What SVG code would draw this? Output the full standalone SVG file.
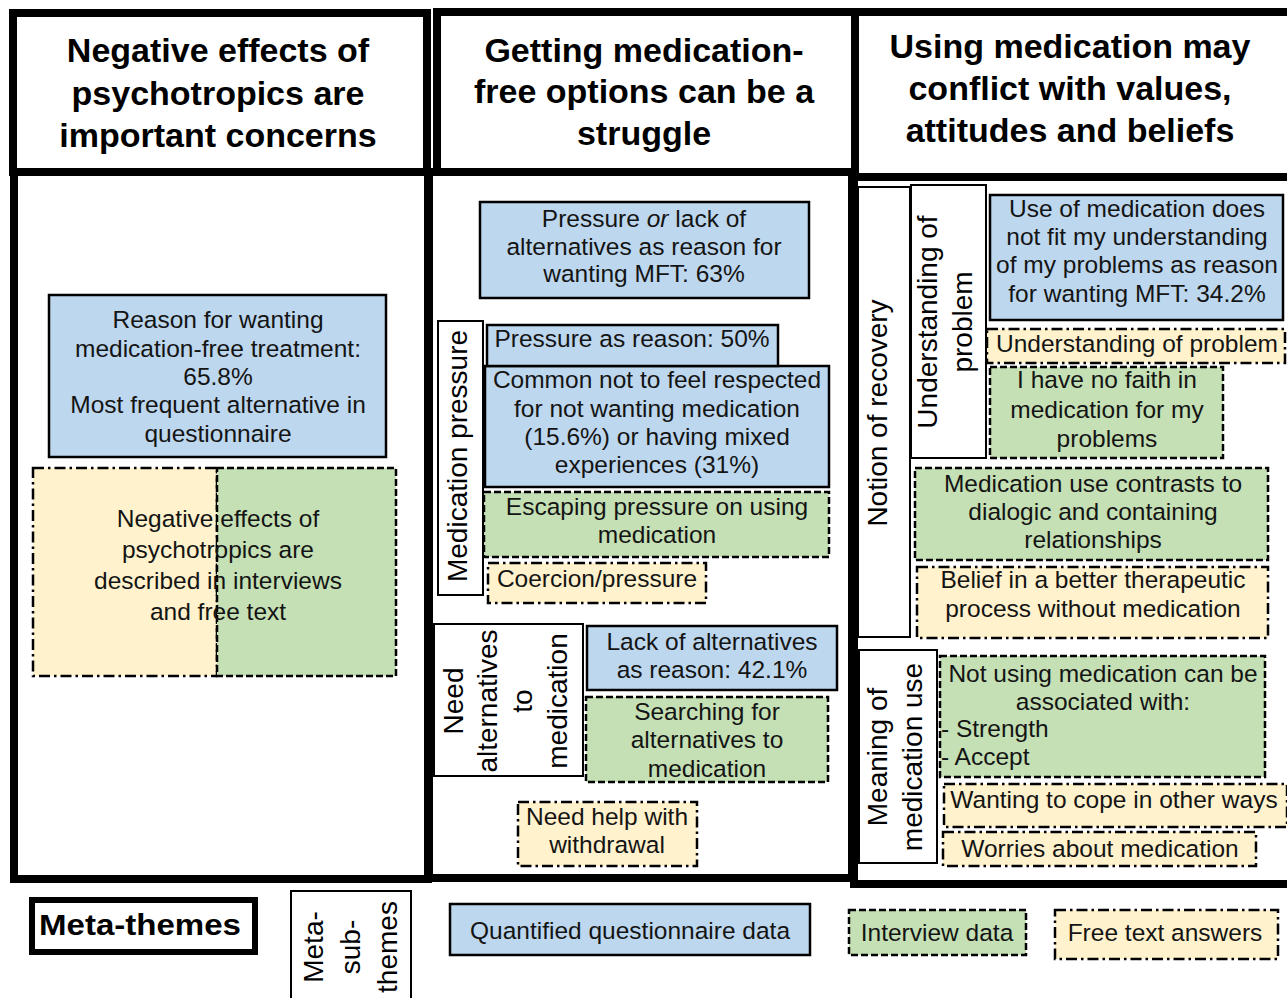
<svg xmlns="http://www.w3.org/2000/svg" width="1287" height="998" viewBox="0 0 1287 998">
<style>
.t{font-family:"Liberation Sans",Arial,sans-serif;font-size:24.5px;fill:#141414;text-anchor:middle}
.s{text-anchor:start}
.h{font-family:"Liberation Sans",Arial,sans-serif;font-size:34px;font-weight:bold;fill:#000;text-anchor:middle}
.v{font-family:"Liberation Sans",Arial,sans-serif;font-size:28px;fill:#000;text-anchor:middle}
.q{fill:#BDD7EE;stroke:#000;stroke-width:2.5}
.i{fill:#C5E0B4;stroke:#000;stroke-width:2.5;stroke-dasharray:7 3}
.f{fill:#FFF2CC;stroke:#000;stroke-width:2.5;stroke-dasharray:11 4 2.5 4}
.lab{fill:#fff;stroke:#000;stroke-width:2}
.frame{fill:#fff;stroke:#000;stroke-width:8}
</style>

<g id="column1">
  <rect class="frame" x="13" y="13" width="414" height="159"/>
  <rect class="frame" x="14" y="172" width="414" height="707"/>
  <text class="h" x="218" y="62">Negative effects of</text>
  <text class="h" x="218" y="105">psychotropics are</text>
  <text class="h" x="218" y="147">important concerns</text>
</g>
<g id="column2">
  <rect class="frame" x="437" y="12" width="418" height="160"/>
  <rect class="frame" x="429" y="172" width="423" height="706"/>
  <text class="h" x="644" y="62">Getting medication-</text>
  <text class="h" x="644" y="103">free options can be a</text>
  <text class="h" x="644" y="145">struggle</text>
</g>
<g id="column3">
  <rect class="frame" x="855" y="12" width="445" height="165"/>
  <rect class="frame" x="854" y="177" width="446" height="707"/>
  <text class="h" x="1070" y="58">Using medication may</text>
  <text class="h" x="1070" y="100">conflict with values,</text>
  <text class="h" x="1070" y="142">attitudes and beliefs</text>
</g>

<g id="connectors"></g>

<!-- Column 1 content -->
<g id="c1-reason">
  <rect class="q" x="49" y="295" width="337" height="162"/>
  <text class="t" x="218" y="328">Reason for wanting</text>
  <text class="t" x="218" y="357">medication-free treatment:</text>
  <text class="t" x="218" y="385">65.8%</text>
  <text class="t" x="218" y="413">Most frequent alternative in</text>
  <text class="t" x="218" y="442">questionnaire</text>
</g>
<g id="c1-negative">
  <rect class="f" x="33" y="468" width="184" height="208"/>
  <rect class="i" x="217" y="468" width="179" height="208"/>
  <text class="t" x="218" y="527">Negative effects of</text>
  <text class="t" x="218" y="558">psychotropics are</text>
  <text class="t" x="218" y="589">described in interviews</text>
  <text class="t" x="218" y="620">and free text</text>
</g>

<!-- Column 2 content -->
<g id="c2-pressure-or-lack">
  <rect class="q" x="480" y="202" width="329" height="96"/>
  <text class="t" x="644" y="227">Pressure <tspan font-style="italic">or</tspan> lack of</text>
  <text class="t" x="644" y="255">alternatives as reason for</text>
  <text class="t" x="644" y="282">wanting MFT: 63%</text>
</g>
<g id="c2-medication-pressure-label">
  <rect class="lab" x="438" y="321" width="45" height="274"/>
  <text class="v" transform="translate(467,456) rotate(-90)">Medication pressure</text>
</g>
<g id="c2-common">
  <rect class="q" x="485" y="366" width="344" height="121"/>
  <text class="t" x="657" y="388">Common not to feel respected</text>
  <text class="t" x="657" y="417">for not wanting medication</text>
  <text class="t" x="657" y="445">(15.6%) or having mixed</text>
  <text class="t" x="657" y="473">experiences (31%)</text>
</g>
<g id="c2-pressure-reason">
  <rect class="q" x="487" y="325" width="291" height="41"/>
  <text class="t" x="632" y="347">Pressure as reason: 50%</text>
</g>
<g id="c2-escaping">
  <rect class="i" x="484" y="492" width="345" height="65"/>
  <text class="t" x="657" y="515">Escaping pressure on using</text>
  <text class="t" x="657" y="543">medication</text>
</g>
<g id="c2-coercion">
  <rect class="f" x="488" y="563" width="218" height="40"/>
  <text class="t" x="597" y="587">Coercion/pressure</text>
</g>
<g id="c2-need-alternatives-label">
  <rect class="lab" x="434" y="624" width="149" height="152"/>
  <text class="v" transform="translate(463,701) rotate(-90)">Need</text>
  <text class="v" transform="translate(497,701) rotate(-90)">alternatives</text>
  <text class="v" transform="translate(532,701) rotate(-90)">to</text>
  <text class="v" transform="translate(567,701) rotate(-90)">medication</text>
</g>
<g id="c2-lack">
  <rect class="q" x="587" y="626" width="250" height="64"/>
  <text class="t" x="712" y="650">Lack of alternatives</text>
  <text class="t" x="712" y="678">as reason: 42.1%</text>
</g>
<g id="c2-searching">
  <rect class="i" x="586" y="697" width="242" height="85"/>
  <text class="t" x="707" y="720">Searching for</text>
  <text class="t" x="707" y="748">alternatives to</text>
  <text class="t" x="707" y="777">medication</text>
</g>
<g id="c2-withdrawal">
  <rect class="f" x="518" y="802" width="179" height="64"/>
  <text class="t" x="607" y="825">Need help with</text>
  <text class="t" x="607" y="853">withdrawal</text>
</g>

<!-- Column 3 content -->
<g id="c3-notion-label">
  <rect class="lab" x="858" y="187" width="52" height="450"/>
  <text class="v" transform="translate(887,413) rotate(-90)">Notion of recovery</text>
</g>
<g id="c3-understanding-label">
  <rect class="lab" x="911" y="185" width="75" height="273"/>
  <text class="v" transform="translate(937,322) rotate(-90)">Understanding of</text>
  <text class="v" transform="translate(972,322) rotate(-90)">problem</text>
</g>
<g id="c3-use-of-medication">
  <rect class="q" x="990" y="195" width="293" height="125"/>
  <text class="t" x="1137" y="217">Use of medication does</text>
  <text class="t" x="1137" y="245">not fit my understanding</text>
  <text class="t" x="1137" y="273">of my problems as reason</text>
  <text class="t" x="1137" y="302">for wanting MFT: 34.2%</text>
</g>
<g id="c3-understanding-free">
  <rect class="f" x="987" y="329" width="298" height="34"/>
  <text class="t" x="1137" y="352">Understanding of problem</text>
</g>
<g id="c3-no-faith">
  <rect class="i" x="990" y="367" width="233" height="91"/>
  <text class="t" x="1107" y="388">I have no faith in</text>
  <text class="t" x="1107" y="418">medication for my</text>
  <text class="t" x="1107" y="447">problems</text>
</g>
<g id="c3-contrasts">
  <rect class="i" x="915" y="468" width="353" height="92"/>
  <text class="t" x="1093" y="492">Medication use contrasts to</text>
  <text class="t" x="1093" y="520">dialogic and containing</text>
  <text class="t" x="1093" y="548">relationships</text>
</g>
<g id="c3-belief">
  <rect class="f" x="917" y="567" width="351" height="71"/>
  <text class="t" x="1093" y="588">Belief in a better therapeutic</text>
  <text class="t" x="1093" y="617">process without medication</text>
</g>
<g id="c3-meaning-label">
  <rect class="lab" x="859" y="650" width="78" height="213"/>
  <text class="v" transform="translate(887,757) rotate(-90)">Meaning of</text>
  <text class="v" transform="translate(922,757) rotate(-90)">medication use</text>
</g>
<g id="c3-not-using">
  <rect class="i" x="940" y="656" width="325" height="121"/>
  <text class="t" x="1103" y="682">Not using medication can be</text>
  <text class="t" x="1103" y="710">associated with:</text>
  <text class="t s" x="941" y="737">- Strength</text>
  <text class="t s" x="941" y="765">- Accept</text>
</g>
<g id="c3-cope">
  <rect class="f" x="944" y="784" width="343" height="43"/>
  <text class="t" x="1114" y="808">Wanting to cope in other ways</text>
</g>
<g id="c3-worries">
  <rect class="f" x="943" y="832" width="313" height="34"/>
  <text class="t" x="1100" y="857">Worries about medication</text>
</g>

<!-- Legend -->
<g id="legend-meta-themes">
  <rect x="32" y="900" width="223" height="52" fill="#fff" stroke="#000" stroke-width="6"/>
  <text class="h" x="140" y="935" textLength="202" lengthAdjust="spacingAndGlyphs" style="font-size:30px">Meta-themes</text>
</g>
<g id="legend-meta-sub-themes">
  <rect class="lab" x="291" y="891" width="120" height="120"/>
  <text class="v" transform="translate(323,947) rotate(-90)">Meta-</text>
  <text class="v" transform="translate(360,947) rotate(-90)">sub-</text>
  <text class="v" transform="translate(397,947) rotate(-90)">themes</text>
</g>
<g id="legend-quantified">
  <rect class="q" x="450" y="904" width="360" height="51"/>
  <text class="t" x="630" y="939">Quantified questionnaire data</text>
</g>
<g id="legend-interview">
  <rect class="i" x="849" y="910" width="177" height="45"/>
  <text class="t" x="937" y="941">Interview data</text>
</g>
<g id="legend-free-text">
  <rect class="f" x="1055" y="910" width="223" height="49"/>
  <text class="t" x="1165" y="941">Free text answers</text>
</g>
</svg>
